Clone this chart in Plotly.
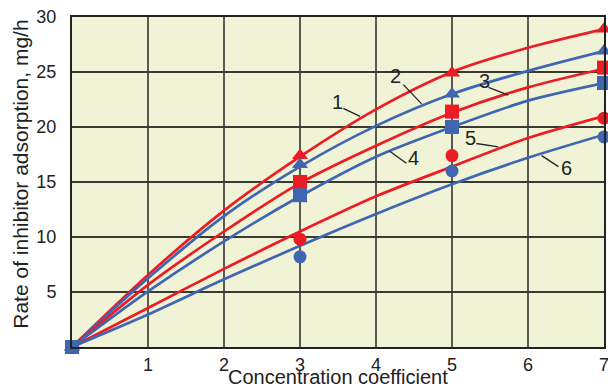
import plotly.graph_objects as go

# ---- data ----
x_curve = [0, 1, 2, 3, 4, 5, 6, 7]
curve1 = [0, 6.55, 12.4, 17.3, 21.6, 25.0, 27.2, 28.9]
curve2 = [0, 6.25, 11.9, 16.4, 20.1, 23.0, 25.1, 26.9]
curve3 = [0, 5.65, 10.5, 14.9, 18.3, 21.3, 23.6, 25.3]
curve4 = [0, 5.05, 9.6, 13.7, 17.3, 20.0, 22.4, 24.0]
curve5 = [0, 3.55, 7.1, 10.5, 13.7, 16.4, 19.0, 21.0]
curve6 = [0, 2.95, 6.15, 9.2, 12.1, 14.8, 17.2, 19.3]

x_marker = [0, 3, 5, 7]
mark1 = [0, 17.4, 24.9, 28.9]
mark2 = [0, 16.6, 23.0, 26.9]
mark3 = [0, 15.0, 21.4, 25.4]
mark4 = [0, 13.8, 20.0, 24.0]
mark5 = [0, 9.8, 17.4, 20.8]
mark6 = [0, 8.2, 16.0, 19.1]

curve_labels = ["1", "2", "3", "4", "5", "6"]
label_pos = [(3.49, 22.3), (4.25, 24.6), (5.43, 24.15), (4.49, 17.2), (5.24, 19.0), (6.51, 16.3)]
leader_lines = [((3.57, 21.7), (3.79, 20.96)), ((4.36, 23.85), (4.60, 22.1)),
                ((5.48, 23.6), (5.74, 22.9)), ((4.18, 17.8), (4.40, 16.7)),
                ((5.32, 18.5), (5.61, 18.2)), ((6.18, 17.4), (6.40, 16.4))]

x_ticks = [1, 2, 3, 4, 5, 6, 7]
y_ticks = [5, 10, 15, 20, 25, 30]
x_title = "Concentration coefficient"
y_title = "Rate of inhibitor adsorption, mg/h"

RED = "#EC1C24"
BLUE = "#3F66B1"

curves = [curve1, curve2, curve3, curve4, curve5, curve6]
marks = [mark1, mark2, mark3, mark4, mark5, mark6]
colors = [RED, BLUE, RED, BLUE, RED, BLUE]
symbols = ["triangle-up", "triangle-up", "square", "square", "circle", "circle"]
sizes = [14, 14, 14, 14, 13, 13]

fig = go.Figure()
for c, col in zip(curves, colors):
    fig.add_trace(go.Scatter(x=x_curve, y=c, mode="lines", line=dict(color=col, width=2.7, shape="spline", smoothing=0.8),
                             showlegend=False, hoverinfo="skip", cliponaxis=False))
order = [0, 1, 2, 4, 5, 3]
for i in order:
    fig.add_trace(go.Scatter(x=x_marker, y=marks[i], mode="markers",
                             marker=dict(color=colors[i], symbol=symbols[i], size=sizes[i], line=dict(width=0)),
                             showlegend=False, cliponaxis=False))

for lab, (lx, ly) in zip(curve_labels, label_pos):
    fig.add_annotation(x=lx, y=ly, text=lab, showarrow=False, font=dict(size=20, color="#222222"))
for (a, b) in leader_lines:
    fig.add_shape(type="line", x0=a[0], y0=a[1], x1=b[0], y1=b[1], line=dict(color="#222222", width=1.3))

# axis titles as annotations for precise placement
fig.add_annotation(xref="paper", yref="paper", x=0.5, y=0, xanchor="center", yanchor="top",
                   yshift=-17, text=x_title, showarrow=False, font=dict(size=20, color="#222222"))
fig.add_annotation(xref="paper", yref="paper", x=0, y=0.522, xanchor="center", yanchor="middle",
                   xshift=-51, textangle=-90, text=y_title, showarrow=False, font=dict(size=21, color="#222222"))

fig.update_layout(
    width=608, height=390,
    margin=dict(l=72, r=4, t=17, b=43),
    paper_bgcolor="white",
    plot_bgcolor="#F1F3D6",
    font=dict(family="Liberation Sans, Arial, sans-serif", color="#222222"),
)
fig.update_xaxes(range=[0, 7], tickvals=x_ticks, ticktext=[str(v) for v in x_ticks],
                 showgrid=True, gridcolor="#5a5a50", gridwidth=1.5,
                 showline=True, linecolor="#222222", linewidth=2, mirror=True,
                 zeroline=False, ticks="", tickfont=dict(size=18), ticklabelstandoff=0,
                 ticklabeloverflow="allow", automargin=False)
fig.update_yaxes(range=[0, 30], tickvals=y_ticks, ticktext=[str(v) for v in y_ticks],
                 showgrid=True, gridcolor="#3a3a35", gridwidth=1.5,
                 showline=True, linecolor="#222222", linewidth=2, mirror=True,
                 zeroline=False, ticks="", tickfont=dict(size=18), ticklabelstandoff=10,
                 automargin=False)

fig.write_html("out.html")
